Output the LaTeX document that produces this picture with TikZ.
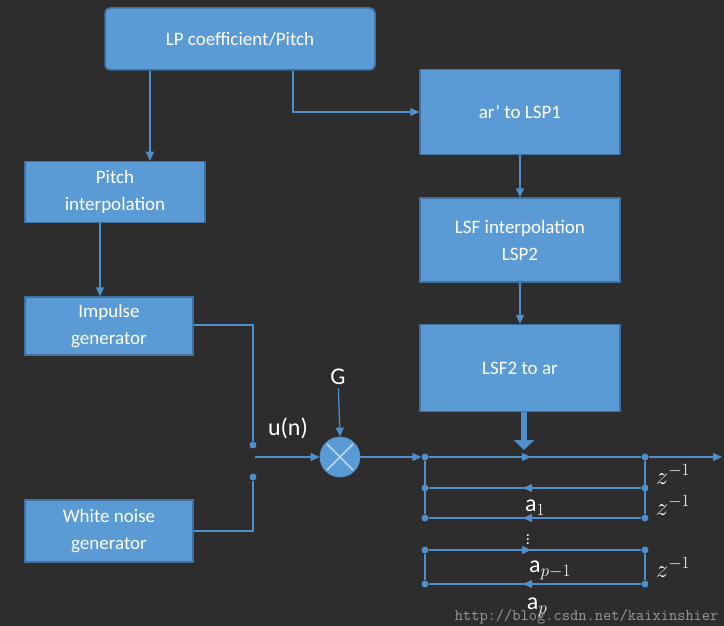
\documentclass[tikz,border=0pt]{standalone}
\usepackage{fontspec}
\setmainfont{Carlito}
\usetikzlibrary{positioning, arrows.meta, calc}
\definecolor{bgdark}{HTML}{2D2D2D}
\definecolor{boxblue}{HTML}{5B9BD5}
\definecolor{lineblue}{HTML}{4F8FCC}
\begin{document}
\begin{tikzpicture}[x=1pt, y=-1pt,
		block/.style={
			rectangle,
			fill=boxblue,
			draw=lineblue!80!black,
			line width=1.5pt,
			text=white,
			align=center,
			font=\fontsize{19}{27}\selectfont
		},
		flow/.style={
			lineblue,
			line width=1.3pt,
			-{Triangle[length=9pt,width=8pt]}
		},
		wire/.style={
			lineblue,
			line width=1.3pt
		},
		junction/.style={
			circle,
			fill=lineblue,
			inner sep=0pt,
			minimum size=7pt
		},
		lbl/.style={
			text=white,
			font=\fontsize{24}{28}\selectfont
		}]
	\fill[bgdark] (0,0) rectangle (724,626);
	\useasboundingbox (0,0) rectangle (724,626);

	% blocks
	\node (lp) [block, minimum width=270pt, minimum height=62pt, rounded corners=5pt] at (240,39) {LP coefficient/Pitch};
	\node (lsp1) [block, minimum width=200pt, minimum height=85pt] at (520,112) {ar' to LSP1};
	\node (lsp2) [block, minimum width=200pt, minimum height=84pt] at (520,240) {LSF interpolation\\LSP2};
	\node (toar) [block, minimum width=200pt, minimum height=87pt] at (520,368) {LSF2 to ar};
	\node (pint) [block, minimum width=180pt, minimum height=61pt] at (115,192) {Pitch\\interpolation};
	\node (imp) [block, minimum width=168pt, minimum height=58pt] at (109,326) {Impulse\\generator};
	\node (wng) [block, minimum width=168pt, minimum height=62pt] at (109,531) {White noise\\generator};

	\draw[flow] ($(lp.south)+(-90,0)$) -- ($(pint.north)+(35,0)$);
	\draw[flow] ($(lp.south)+(53,0)$) |- (lsp1.west);
	\draw[flow] (lsp1) -- (lsp2);
	\draw[flow] (lsp2) -- (toar);
	\draw[flow] ($(pint.south)+(-15,0)$) -- ($(imp.north)+(-9,0)$);

	% excitation switch
	\node (s1) [junction] at (253,445) {};
	\node (s2) [junction] at (253,477) {};
	\coordinate (sw) at (255,457);
	\draw[wire] ($(imp.east)+(0,-1)$) -| (s1);
	\draw[wire] (wng.east) -| (s2);
	\node (un) [lbl] at (288,428) {u(n)};

	% gain multiplier
	\node (mul) [circle, fill=boxblue, draw=lineblue, thick, minimum size=40pt] at (340,457) {};
	\draw[white!70!boxblue, line width=1.2pt] ($(mul)+(-13,-13)$) -- ($(mul)+(13,13)$) ($(mul)+(-13,13)$) -- ($(mul)+(13,-13)$);
	\node (g) [lbl] at (338,377) {G};
	\draw[flow] (g) -- (mul.north);
	\draw[flow] (sw) -- (mul.west);

	% lattice filter
	\foreach \r/\y in {1/457, 2/488, 3/518, 4/550, 5/584} {
		\node (l\r) [junction] at (425,\y) {};
		\node (r\r) [junction] at (645,\y) {};
		\coordinate (m\r) at (527,\y);
	}
	\coordinate (out) at (722,457);
	\draw[flow] (mul.east) -- (l1);
	\draw[flow] (l1) -- ($(m1)+(4,0)$);
	\draw[wire] (m1) -- (r1);
	\draw[flow] (r1) -- (out);
	\draw[wire] (l1) -- (l3) (r1) -- (r3) (l4) -- (l5) (r4) -- (r5);
	\foreach \r in {2,3,5} {
		\draw[flow] (r\r) -- ($(m\r)+(-4,0)$);
		\draw[wire] (m\r) -- (l\r);
	}
	\draw[flow] (l4) -- ($(m4)+(4,0)$);
	\draw[wire] (m4) -- (r4);
	\draw[lineblue, line width=6pt, -{Triangle[length=10pt,width=20pt]}] (toar.south -| 524,0) -- (524,450);

	\node (z1) [lbl] at (673,474) {$z^{-1}$};
	\node (z2) [lbl] at (673,505) {$z^{-1}$};
	\node (z3) [lbl] at (673,567) {$z^{-1}$};
	\node (a1) [lbl] at (535,508) {a$_1$};
	\node (dots) [text=white, font=\fontsize{16}{16}\selectfont, inner sep=0pt] at (528,537) {$\vdots$};
	\node (ap1) [lbl] at (550,570) {a$_{p-1}$};
	\node (ap) [lbl] at (537,607) {a$_p$};
	\node (wm) [text=gray!80, font=\ttfamily\fontsize{16}{18}\selectfont, anchor=east] at (722,617) {http://blog.csdn.net/kaixinshier};
\end{tikzpicture}
\end{document}
